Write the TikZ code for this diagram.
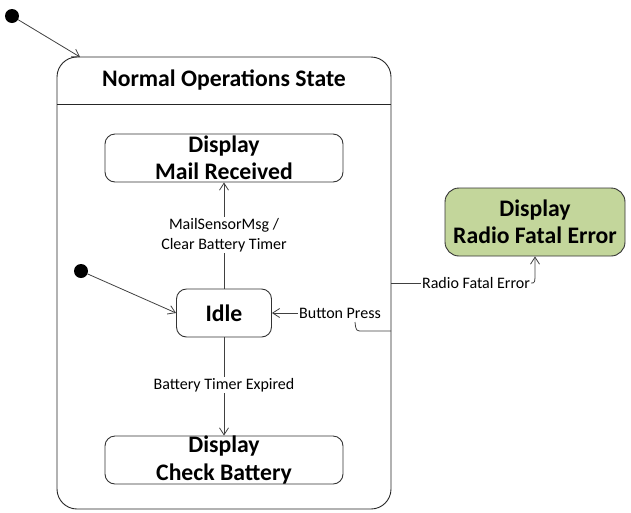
\documentclass[tikz,border=0pt]{standalone}
\usepackage{fontspec}
\setmainfont{Carlito}
\usetikzlibrary{arrows.meta}
\definecolor{greenfill}{HTML}{C3D69B}
\begin{document}
\begin{tikzpicture}[x=1pt,y=-1pt,
  state/.style={draw=black!80,line width=0.9pt,rounded corners=10pt,minimum width=238pt,minimum height=48pt,inner sep=0pt,font=\bfseries\fontsize{23.7}{27.5}\selectfont,align=center},
  lbl/.style={font=\fontsize{16}{20}\selectfont,inner sep=1pt,align=center,fill=white},
  conn/.style={draw=black!75,line width=0.8pt},
  arr/.style={-{Straight Barb[length=7pt,width=9pt]}},
  init/.style={circle,fill=black,minimum size=14pt,inner sep=0pt}]
\useasboundingbox (0,0) rectangle (631,512);
% outer composite state
\node[draw=black!85,line width=0.9pt,rounded corners=20pt,minimum width=334pt,minimum height=452pt,inner sep=0pt] (normal) at (224,283) {};
\coordinate (dl) at (57,104);
\coordinate (dr) at (391,104);
\draw[draw=black!85,line width=0.9pt] (dl) -- (dr);
\node[font=\bfseries\fontsize{23.7}{27}\selectfont] (title) at (224,80.5) {Normal Operations State};
% inner states
\node[state] (mail) at (224,158) {Display\\Mail Received};
\node[state,minimum width=95pt] (idle) at (224,313) {Idle};
\node[state] (check) at (224,460) {Display\\Check Battery};
\node[state,fill=greenfill,minimum width=180pt,minimum height=68pt,rounded corners=14pt] (green) at (535,222) {Display\\Radio Fatal Error};
% initial states
\node[init] (init1) at (12,16) {};
\coordinate (ne) at (80,57);
\draw[conn,arr] (init1) -- (ne);
\node[init] (init2) at (81,271) {};
\draw[conn,arr] (init2) -- (idle.west);
% transitions
\draw[conn,arr] (idle.north) -- (mail.south);
\node[lbl] (l1) at (224,235) {MailSensorMsg /\\Clear Battery Timer};
\draw[conn,arr] (idle.south) -- (check.north);
\node[lbl] (l2) at (224,385) {Battery Timer Expired};
% radio fatal error
\coordinate (r0) at (391,283);
\node[lbl,fill=none] (rlbl) at (476,283) {Radio Fatal Error};
\draw[conn] (r0) -- (rlbl.west);
\draw[conn,arr] (rlbl.east) .. controls (535,283) .. (535,272) -- (green.south);
% button press
\coordinate (b0) at (391,331);
\coordinate (b1) at (363,331);
\coordinate (b2) at (355,322);
\node[lbl,fill=none] (blbl) at (340,313) {Button Press};
\draw[conn] (b0) -- (b1) .. controls (356,331) .. (b2);
\draw[conn,arr] (blbl.west) -- (idle.east);
\end{tikzpicture}
\end{document}
